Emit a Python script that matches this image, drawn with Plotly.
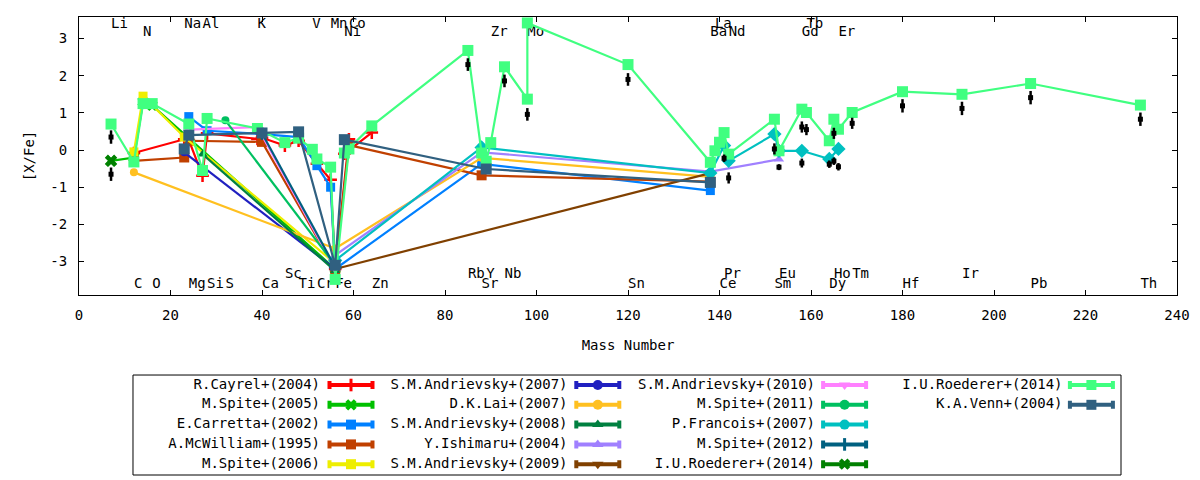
import plotly.graph_objects as go

# ---------------- data ----------------
mass_number = {"Li": 7, "C": 12, "N": 14, "O": 16, "Na": 23, "Mg": 24, "Al": 27, "Si": 28,
               "S": 32, "K": 39, "Ca": 40, "Sc": 45, "Ti": 48, "V": 51, "Cr": 52, "Mn": 55,
               "Fe": 56, "Co": 59, "Ni": 58, "Zn": 64, "Rb": 85, "Sr": 88, "Y": 89, "Zr": 90,
               "Nb": 93, "Mo": 98, "Sn": 120, "Ba": 138, "La": 139, "Ce": 140, "Pr": 141,
               "Nd": 142, "Sm": 152, "Eu": 153, "Gd": 158, "Tb": 159, "Dy": 164, "Ho": 165,
               "Er": 166, "Tm": 169, "Hf": 180, "Ir": 193, "Pb": 208, "Th": 232}

label_top1 = ["Li", "Na", "Al", "K", "V", "Mn", "Co", "La", "Tb"]
label_top2 = ["N", "Ni", "Zr", "Mo", "Ba", "Nd", "Gd", "Er"]
label_bot1 = ["Sc", "Rb", "Y", "Nb", "Pr", "Eu", "Ho", "Tm", "Ir"]
label_bot2 = ["C", "O", "Mg", "Si", "S", "Ca", "Ti", "Cr", "Fe", "Zn", "Sr", "Sn", "Ce",
              "Sm", "Dy", "Hf", "Pb", "Th"]

x_ticks = [0, 20, 40, 60, 80, 100, 120, 140, 160, 180, 200, 220, 240]
y_ticks = [-3, -2, -1, 0, 1, 2, 3]
y_tick_text = ["-3", "-2", "-1", "0", "1", "2", "3"]

cayrel_el = ["C", "Na", "Mg", "Al", "Si", "K", "Ca", "Sc", "Ti", "Cr", "Mn", "Fe", "Co", "Ni", "Zn"]
cayrel_val = [-0.08, 0.29, 0.27, -0.69, 0.45, 0.30, 0.33, 0.12, 0.25, -0.37, -0.80, -3.20, 0.29, -0.10, 0.47]

spite05_el = ["Li", "C", "N", "O", "Fe"]
spite05_val = [-0.29, -0.20, 1.30, 1.20, -3.20]

carretta_el = ["Mg", "Si", "Ca", "Ti", "Cr", "Mn", "Fe", "Sr", "Ba"]
carretta_val = [0.90, 0.52, 0.43, 0.35, -0.42, -1.00, -3.20, -0.37, -1.09]

mcwilliam_el = ["C", "Na", "Mg", "Ca", "Fe", "Co", "Sr", "Ba"]
mcwilliam_val = [-0.29, -0.20, 0.25, 0.22, -3.20, 0.13, -0.68, -0.85]

spite06_el = ["C", "N", "Na", "Fe"]
spite06_val = [-0.05, 1.45, 0.35, -3.05]

andr07_el = ["Na", "Fe"]
andr07_val = [-0.06, -3.20]

lai07_el = ["C", "Fe", "Sr", "Ba"]
lai07_val = [-0.60, -2.65, -0.21, -0.72]

andr08_el = ["Al", "Fe"]
andr08_val = [-0.11, -3.25]

ishimaru_el = ["Fe", "Sr", "Ba", "Eu"]
ishimaru_val = [-2.83, -0.06, -0.58, -0.25]

andr09_el = ["Fe", "Ba"]
andr09_val = [-3.20, -0.62]

andr10_el = ["Mg", "K", "Fe"]
andr10_val = [0.55, 0.62, -3.20]

spite11_el = ["S", "Fe"]
spite11_val = [0.80, -3.10]

francois_el = ["Fe", "Sr", "Ba", "Pr", "Nd", "Sm", "Eu", "Gd", "Dy", "Er"]
francois_val = [-2.97, 0.07, -0.62, 0.12, -0.29, 0.43, -0.02, -0.02, -0.24, 0.03]

spite12_el = ["Ca", "Fe"]
spite12_val = [0.45, -3.15]

roed_dark_el = ["Li"]
roed_dark_val = [-0.29]

roed_el = ["Li", "C", "N", "O", "Mg", "Al", "Si", "K", "Sc", "Ti", "V", "Cr", "Mn", "Fe", "Co",
           "Ni", "Zn", "Rb", "Sr", "Y", "Zr", "Nb", "Mo", "Mo", "Sn", "Ba", "La", "Ce", "Pr",
           "Nd", "Sm", "Eu", "Gd", "Tb", "Dy", "Ho", "Er", "Tm", "Hf", "Ir", "Pb", "Th"]
roed_val = [0.70, -0.32, 1.25, 1.25, 0.70, -0.55, 0.85, 0.58, 0.20, 0.32, 0.02, -0.24, -0.46,
            -3.48, 0.03, -0.08, 0.65, 2.68, -0.08, -0.30, 0.20, 2.24, 1.37, 3.42, 2.30, -0.33,
            -0.02, 0.21, 0.47, -0.11, 0.83, -0.02, 1.10, 1.01, 0.25, 0.83, 0.56, 1.01, 1.57,
            1.50, 1.79, 1.21]

venn_el = ["Na", "Mg", "Ca", "Ti", "Fe", "Ni", "Y", "Ba"]
venn_val = [0.03, 0.40, 0.46, 0.49, -3.10, 0.28, -0.51, -0.87]

limit_el = ["Li", "Li", "Rb", "Nb", "Mo", "Sn", "Pr", "Nd", "Sm", "Eu", "Gd", "Gd", "Tb", "Dy",
            "Ho", "Ho", "Er", "Tm", "Hf", "Ir", "Pb", "Th"]
limit_val = [0.35, -0.65, 2.30, 1.86, 0.96, 1.90, -0.22, -0.75, 0.03, -0.46, 0.62, -0.35, 0.55,
             -0.38, 0.45, -0.30, -0.45, 0.72, 1.19, 1.12, 1.41, 0.83]
limit_err = [0.18, 0.18, 0.17, 0.17, 0.17, 0.17, 0.10, 0.15, 0.15, 0.08, 0.15, 0.12, 0.15,
             0.10, 0.15, 0.10, 0.10, 0.15, 0.18, 0.18, 0.18, 0.18]

names = ["R.Cayrel+(2004)", "M.Spite+(2005)", "E.Carretta+(2002)", "A.McWilliam+(1995)",
         "M.Spite+(2006)", "S.M.Andrievsky+(2007)", "D.K.Lai+(2007)", "S.M.Andrievsky+(2008)",
         "Y.Ishimaru+(2004)", "S.M.Andrievsky+(2009)", "S.M.Andrievsky+(2010)", "M.Spite+(2011)",
         "P.Francois+(2007)", "M.Spite+(2012)", "I.U.Roederer+(2014)", "I.U.Roederer+(2014)",
         "K.A.Venn+(2004)"]
series_el = [cayrel_el, spite05_el, carretta_el, mcwilliam_el, spite06_el, andr07_el, lai07_el,
             andr08_el, ishimaru_el, andr09_el, andr10_el, spite11_el, francois_el, spite12_el,
             roed_dark_el, roed_el, venn_el]
series_val = [cayrel_val, spite05_val, carretta_val, mcwilliam_val, spite06_val, andr07_val,
              lai07_val, andr08_val, ishimaru_val, andr09_val, andr10_val, spite11_val,
              francois_val, spite12_val, roed_dark_val, roed_val, venn_val]

# ---------------- styles ----------------
colors = ["#ff0000", "#00c000", "#0080ff", "#c04000", "#eeee00", "#2020c0", "#ffc020", "#008040",
          "#a080ff", "#804000", "#ff80ff", "#00c060", "#00c0c0", "#006080", "#008000", "#40ff80",
          "#306080"]
symbols = ["cross-thin", "x", "square", "square", "square", "circle", "circle", "triangle-up",
           "triangle-up", "triangle-down", "triangle-down", "circle", "diamond", "cross-thin",
           "x", "square", "square"]
sizes = [9, 10, 9, 10, 9, 8, 8, 9, 9, 9, 9, 8, 11, 9, 11, 11, 11]
leg_symbols = ["line-ns", "x", "square", "square", "square", "circle", "circle", "triangle-up",
               "triangle-up", "triangle-down", "triangle-down", "circle", "circle", "line-ns",
               "x", "square", "square"]

FONT = "DejaVu Sans Mono"

fig = go.Figure()

# element labels (drawn first so that the data sit above them)
for row, yv in [(label_top1, 3.37), (label_top2, 3.17), (label_bot1, -3.36), (label_bot2, -3.63)]:
    fig.add_trace(go.Scatter(
        x=[mass_number[e] for e in row], y=[yv] * len(row), text=row, mode="text",
        textposition="middle right", textfont=dict(family=FONT, size=14, color="#000000"),
        showlegend=False, hoverinfo="skip", cliponaxis=False))


def marker_for(i, size):
    sym = symbols[i]
    if sym in ("cross-thin",):
        return dict(symbol=sym, size=size, color=colors[i], line=dict(width=2.5, color=colors[i]))
    return dict(symbol=sym, size=size, color=colors[i], line=dict(width=0))


for i in range(len(names)):
    fig.add_trace(go.Scatter(
        x=[mass_number[e] for e in series_el[i]], y=series_val[i],
        mode="lines+markers", line=dict(color=colors[i], width=2.2),
        marker=marker_for(i, sizes[i]), name=names[i], showlegend=False))

fig.add_trace(go.Scatter(
    x=[mass_number[e] for e in limit_el], y=limit_val, mode="markers",
    marker=dict(symbol="square", size=5, color="#000000"),
    error_y=dict(type="data", array=limit_err, visible=True, color="#000000", thickness=2.5, width=0),
    showlegend=False, hoverinfo="skip"))

# ---------------- custom legend (text left, sample right) ----------------
for i in range(len(names)):
    col, row = i // 5, i % 5
    ry = 10 + 19.8 * row
    fig.add_trace(go.Scatter(
        x=[187 + 247.5 * col], y=[ry], text=[names[i]], mode="text",
        textposition="middle left", textfont=dict(family=FONT, size=14, color="#000000"),
        xaxis="x2", yaxis="y2", showlegend=False, hoverinfo="skip", cliponaxis=False))
    lm = dict(symbol=leg_symbols[i], size=10, color=colors[i], line=dict(width=0))
    if leg_symbols[i] == "line-ns":
        lm = dict(symbol="line-ns", size=9, color=colors[i], line=dict(width=3, color=colors[i]))
    fig.add_trace(go.Scatter(
        x=[218 + 246.8 * col], y=[ry], mode="markers", marker=lm,
        error_x=dict(type="constant", value=21.5, visible=True, color=colors[i], thickness=4, width=4),
        xaxis="x2", yaxis="y2", showlegend=False, hoverinfo="skip", cliponaxis=False))

axis_common = dict(showgrid=False, zeroline=False, showline=True, linecolor="#000000",
                   linewidth=1, mirror="ticks", ticks="inside", ticklen=5, tickcolor="#000000",
                   automargin=False,
                   tickfont=dict(family=FONT, size=14, color="#000000"))

fig.update_layout(
    width=1200, height=480,
    margin=dict(l=79, r=23, t=17, b=5),
    paper_bgcolor="white", plot_bgcolor="white",
    font=dict(family=FONT, size=14, color="#000000"),
    xaxis=dict(domain=[0, 1], range=[0, 240], tickvals=x_ticks, anchor="y",
               title=dict(text="Mass Number", standoff=18, font=dict(family=FONT, size=14)),
               ticklabelstandoff=7, **axis_common),
    yaxis=dict(domain=[0.393, 1], range=[-3.9, 3.58], tickvals=y_ticks, ticktext=y_tick_text,
               anchor="x", title=dict(text="[X/Fe]", standoff=12, font=dict(family=FONT, size=14)),
               ticklabelstandoff=8, **axis_common),
    xaxis2=dict(domain=[0.04918, 0.949], range=[0, 988], visible=False, anchor="y2",
                fixedrange=True, automargin=False),
    yaxis2=dict(domain=[0, 0.2183], range=[100, 0], visible=False, anchor="x2",
                fixedrange=True, automargin=False),
    shapes=[dict(type="rect", xref="paper", yref="paper", x0=0.04918, x1=0.949, y0=0, y1=0.2183,
                 line=dict(color="#000000", width=1), fillcolor="rgba(0,0,0,0)")],
    showlegend=False,
)

fig.write_html("out.html", config={"displayModeBar": False},
               post_script="document.body.style.margin='0';document.body.style.overflow='hidden';")
